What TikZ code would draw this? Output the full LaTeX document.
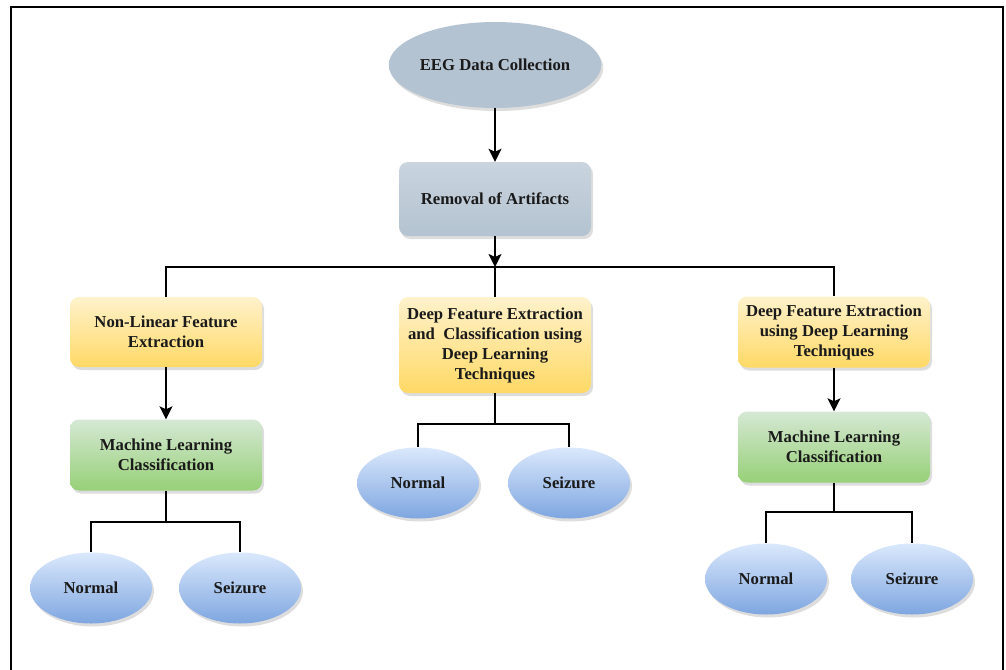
\documentclass[tikz,border=0pt]{standalone}
\usepackage{fontspec}
\setmainfont{Liberation Serif}
\usetikzlibrary{shapes.geometric,arrows.meta,shadows}
\definecolor{txt}{HTML}{1A1A1A}
\definecolor{grayA}{HTML}{C9D4DE}
\definecolor{grayB}{HTML}{B4C3D1}
\definecolor{yelA}{HTML}{FFF2CC}
\definecolor{yelB}{HTML}{FFD966}
\definecolor{grnA}{HTML}{D5E8D4}
\definecolor{grnB}{HTML}{97D077}
\definecolor{bluA}{HTML}{DAE8FC}
\definecolor{bluB}{HTML}{7EA6E0}
\tikzset{
  base/.style={draw=none, text=txt, align=center, inner sep=0pt,
    font=\fontsize{16.7}{20}\selectfont\bfseries,
    drop shadow={shadow xshift=2pt, shadow yshift=-3pt, opacity=0.22, fill=black!60}},
  grayell/.style={base, ellipse, fill=grayB, minimum width=195pt, minimum height=86pt},
  graybox/.style={base, rounded corners=9pt, top color=grayA, bottom color=grayB, minimum width=192pt, minimum height=74pt},
  yelbox/.style={base, rounded corners=9pt, top color=yelA, bottom color=yelB, minimum width=192pt},
  grnbox/.style={base, rounded corners=9pt, top color=grnA, bottom color=grnB, minimum width=192pt, minimum height=71pt},
  bluell/.style={base, ellipse, top color=bluA, bottom color=bluB, minimum width=122pt, minimum height=71pt},
  conn/.style={draw=black, line width=2pt},
  arr/.style={conn, -{Stealth[length=13pt,width=13pt,inset=3pt]}},
}
\begin{document}
\begin{tikzpicture}[x=1pt,y=-1pt]
\useasboundingbox (0,0) rectangle (1006,669);
% frame
\draw[line width=2.5pt] (11,675) -- (11,7) -- (1003,7) -- (1003,675);
% nodes
\node[grayell] (eeg) at (495,65) {EEG Data Collection};
\node[graybox] (rem) at (495,199) {Removal of Artifacts};
\coordinate (j1) at (495,267);
\node[yelbox, minimum height=70pt] (nl) at (166,332) {Non-Linear Feature\\Extraction};
\node[yelbox, minimum height=96pt] (dc) at (495,345) {Deep Feature Extraction\\and~ Classification using\\Deep Learning\\Techniques};
\node[yelbox, minimum height=71pt] (dr) at (834,332) {Deep Feature Extraction\\using Deep Learning\\Techniques};
\node[grnbox] (ml1) at (166,455) {Machine Learning\\Classification};
\node[grnbox] (ml2) at (834,447) {Machine Learning\\Classification};
\coordinate (jl) at (166,522);
\coordinate (jm) at (495,424);
\coordinate (jr) at (834,512);
\node[bluell] (n1) at (91,588) {Normal};
\node[bluell] (s1) at (240,588) {Seizure};
\node[bluell] (n2) at (418,483) {Normal};
\node[bluell] (s2) at (569,483) {Seizure};
\node[bluell] (n3) at (766,579) {Normal};
\node[bluell] (s3) at (912,579) {Seizure};
% connectors
\draw[arr] (eeg) -- (rem);
\draw[arr] (rem) -- (j1);
\draw[conn] (nl.north) |- (j1) -| (dr.north);
\draw[conn] (j1) -- (dc.north);
\draw[arr] (nl) -- (ml1);
\draw[arr] (dr) -- (ml2);
\draw[conn] (ml1) -- (jl);
\draw[conn] (n1.north) |- (jl) -| (s1.north);
\draw[conn] (dc) -- (jm);
\draw[conn] (n2.north) |- (jm) -| (s2.north);
\draw[conn] (ml2) -- (jr);
\draw[conn] (n3.north) |- (jr) -| (s3.north);
\end{tikzpicture}
\end{document}
